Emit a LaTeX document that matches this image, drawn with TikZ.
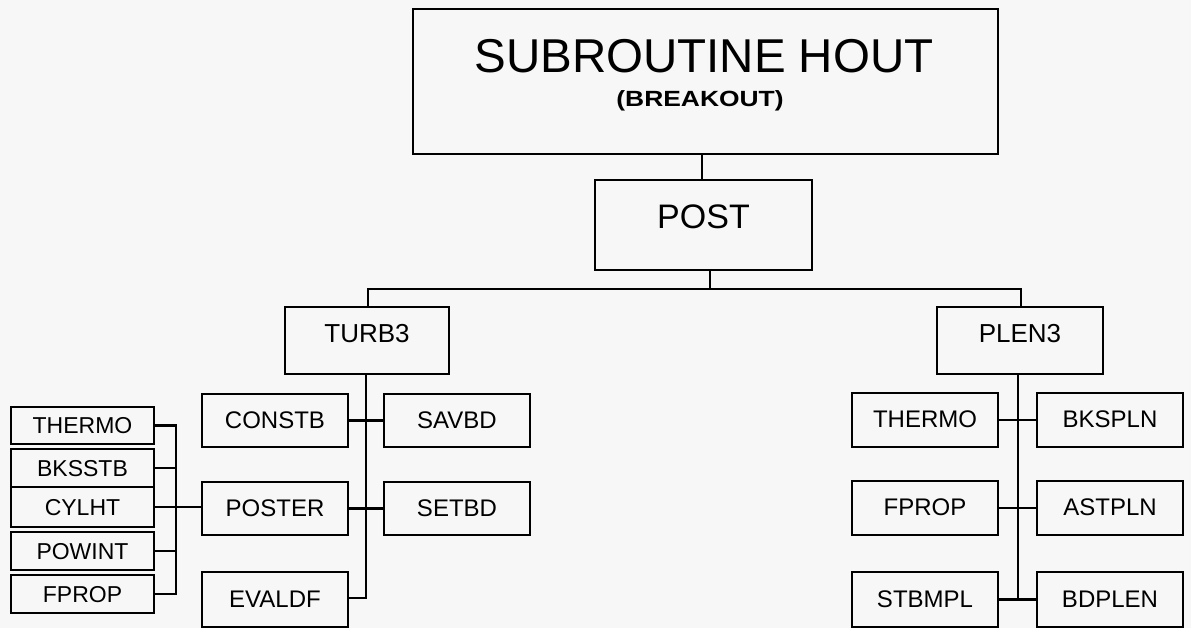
\documentclass[tikz,border=0pt]{standalone}
\usepackage{fontspec}
\usepackage{graphicx}
\setmainfont{Liberation Sans}
\definecolor{paper}{RGB}{247,247,247}
\begin{document}
\begin{tikzpicture}[x=1pt,y=-1pt,
  line width=2.3pt,
  boxbase/.style={draw, inner sep=0pt, line width=2.3pt},
  callbox/.style={boxbase, minimum width=146pt, minimum height=53pt,
    font=\fontsize{24}{24}\selectfont, text height=17pt, text depth=2pt},
  leafbox/.style={boxbase, minimum width=143pt, minimum height=38pt,
    font=\fontsize{23}{23}\selectfont, text height=16.5pt, text depth=0pt},
  midbox/.style={boxbase, minimum height=67pt,
    font=\fontsize{26}{26}\selectfont, text height=18.6pt, text depth=14pt},
]
% page
\fill[paper] (0,0) rectangle (1191,628);
\useasboundingbox (0,0) rectangle (1191,628);

% main routine
\node[boxbase, minimum width=585pt, minimum height=145pt] (hout) at (705.5,81.5) {};
\node[anchor=base, inner sep=0pt, font=\fontsize{47.5}{47.5}\selectfont] (houttitle) at (704,73) {SUBROUTINE HOUT};
\node[anchor=base, inner sep=0pt, font=\fontsize{22}{22}\selectfont\bfseries] (houtsub) at (700,107) {\scalebox{1.2}[1]{(BREAKOUT)}};

\node[boxbase, minimum width=217pt, minimum height=90pt,
  font=\fontsize{34}{34}\selectfont, text height=24.5pt, text depth=17pt] (post) at (703.5,225) {POST};

\node[midbox, minimum width=164pt] (turb) at (367,340.5) {TURB3};
\node[midbox, minimum width=166pt] (plen) at (1020,340.5) {PLEN3};

% TURB3 branch
\node[callbox] (constb) at (275,420.5) {CONSTB};
\node[callbox] (poster) at (275,508.5) {POSTER};
\node[callbox, minimum height=55pt] (evaldf) at (275,599.5) {EVALDF};
\node[callbox] (savbd) at (457,420.5) {SAVBD};
\node[callbox] (setbd) at (457,508.5) {SETBD};

% POSTER callees
\node[leafbox, minimum height=37pt] (thermoa) at (82.5,425.5) {THERMO};
\node[leafbox] (bksstb) at (82.5,468) {BKSSTB};
\node[leafbox, minimum height=40pt] (cylht) at (82.5,507) {CYLHT};
\node[leafbox] (powint) at (82.5,551) {POWINT};
\node[leafbox] (fpropa) at (82.5,594) {FPROP};

% PLEN3 branch
\node[callbox, minimum height=54pt] (thermob) at (925,420) {THERMO};
\node[callbox, minimum height=54pt] (fpropb) at (925,508) {FPROP};
\node[callbox, minimum height=55pt] (stbmpl) at (925,599.5) {STBMPL};
\node[callbox, minimum height=54pt] (bkspln) at (1110,420) {BKSPLN};
\node[callbox, minimum height=54pt] (astpln) at (1110,508) {ASTPLN};
\node[callbox, minimum height=55pt] (bdplen) at (1110,599.5) {BDPLEN};

% connectors
\coordinate (bus) at (710,289);
\draw ([xshift=-3.5pt]hout.south) -- ([xshift=-1.5pt]post.north);
\draw ([xshift=6.5pt]post.south) -- (bus);
\draw ([xshift=1pt]turb.north) |- (bus) -| ([xshift=1pt]plen.north);

\coordinate (tcol) at (366,598);
\draw ([xshift=-1pt]turb.south) -- (tcol) -- (evaldf.east |- tcol);
\draw (constb.east) -- (savbd.west);
\draw (poster.east) -- (setbd.west);

\coordinate (lcol) at (176,0);
\draw (thermoa.east) -- (thermoa.east -| lcol) -- (fpropa.east -| lcol) -- (fpropa.east);
\draw (bksstb.east) -- (bksstb.east -| lcol);
\draw (powint.east) -- (powint.east -| lcol);
\draw (cylht.east) -- (poster.west |- cylht.east);

\coordinate (pcol) at (1018,598);
\draw ([xshift=-2pt]plen.south) -- (pcol);
\draw (thermob.east) -- (bkspln.west);
\draw (fpropb.east) -- (astpln.west);
\draw (stbmpl.east) -- (bdplen.west);
\end{tikzpicture}
\end{document}
